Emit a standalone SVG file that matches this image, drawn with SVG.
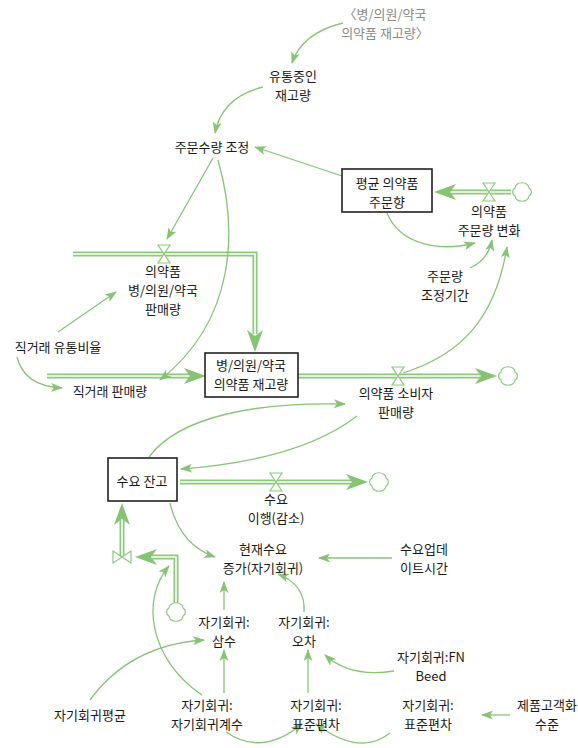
<svg xmlns="http://www.w3.org/2000/svg" width="578" height="748" viewBox="0 0 578 748">
<style>
text{font-family:"Noto Sans CJK KR","Noto Sans",sans-serif;font-size:13px;fill:#1a1a1a;text-anchor:middle}
.gray{fill:#8a8a8a}
.box{fill:#fff;stroke:#222;stroke-width:1.6}
.po{fill:none;stroke:#8cc97b;stroke-width:5;stroke-linejoin:miter}
.pi{fill:none;stroke:#fff;stroke-width:1.6;stroke-linejoin:miter}
.valve{fill:#fff;stroke:#8cc97b;stroke-width:1.2}
.cloud{fill:#fff;stroke:#8cc97b;stroke-width:1.2}
.fh{fill:#86c473}
.c{fill:none;stroke:#88c477;stroke-width:1.3;marker-end:url(#ah)}
</style>
<defs>
<marker id="ah" viewBox="0 0 12 9" refX="11" refY="4.5" markerWidth="12" markerHeight="9" markerUnits="userSpaceOnUse" orient="auto">
<path d="M0,0 L12,4.5 L0,9 L3,4.5 Z" fill="#86c473"/>
</marker>
<path id="fhead" d="M0,0 L-22,-8 L-16,0 L-22,8 Z"/>
<path id="hv" d="M-6,-9 L6,-9 L0,0 Z M-6,9 L6,9 L0,0 Z"/>
<path id="cl" d="M-7,4 A4.5,4.5 0 0 1 -7,-4 A6,4.5 0 0 1 7,-4 A4.5,4.5 0 0 1 7,4 A6,4.5 0 0 1 -7,4 Z"/>
</defs>

<g id="flows">
<polyline class="po" points="73,254 255,254 255,334"/>
<polyline class="pi" points="73,254 255,254 255,334"/>
<use href="#fhead" class="fh" transform="translate(255,352) rotate(90)"/>
<use href="#hv" class="valve" transform="translate(164,254)"/>
<polyline class="po" points="47,376 190,376"/>
<polyline class="pi" points="47,376 190,376"/>
<use href="#fhead" class="fh" transform="translate(206,376)"/>
<polyline class="po" points="298,376 482,376"/>
<polyline class="pi" points="298,376 482,376"/>
<use href="#fhead" class="fh" transform="translate(497,376)"/>
<use href="#hv" class="valve" transform="translate(398,376)"/>
<use href="#cl" class="cloud" transform="translate(508,376)"/>
<polyline class="po" points="511,192 450,192"/>
<polyline class="pi" points="511,192 450,192"/>
<use href="#fhead" class="fh" transform="translate(434,192) rotate(180)"/>
<use href="#hv" class="valve" transform="translate(489,192)"/>
<use href="#cl" class="cloud" transform="translate(522,192)"/>
<polyline class="po" points="180,482 353,482"/>
<polyline class="pi" points="180,482 353,482"/>
<use href="#fhead" class="fh" transform="translate(368,482)"/>
<use href="#hv" class="valve" transform="translate(276,482)"/>
<use href="#cl" class="cloud" transform="translate(379,482)"/>
<polyline class="po" points="122,557 122,520"/>
<polyline class="pi" points="122,557 122,520"/>
<use href="#fhead" class="fh" transform="translate(122,503) rotate(-90)"/>
<use href="#hv" class="valve" transform="translate(122,557) rotate(90)"/>
<polyline class="po" points="176,606 176,557 152,557"/>
<polyline class="pi" points="176,606 176,557 152,557"/>
<use href="#fhead" class="fh" transform="translate(135,557) rotate(180)"/>
<use href="#cl" class="cloud" transform="translate(176,612)"/>
</g>

<g id="connectors">
<path class="c" d="M343,23 Q302,33 292,63"/>
<path class="c" d="M263,87 Q222,97 215,133"/>
<path class="c" d="M342,176 L255,147"/>
<path class="c" d="M213,158 L167,239"/>
<path class="c" d="M218,160 C238,230 236,320 160,380"/>
<path class="c" d="M58,332 L116,292"/>
<path class="c" d="M17,357 Q24,386 62,388"/>
<path class="c" d="M387,213 C400,245 440,252 475,243"/>
<path class="c" d="M470,268 Q488,260 492,240"/>
<path class="c" d="M403,373 C460,355 495,320 507,247"/>
<path class="c" d="M149,457 C180,415 260,402 345,404"/>
<path class="c" d="M357,416 Q300,460 181,469"/>
<path class="c" d="M170,503 Q180,545 215,557"/>
<path class="c" d="M392,558 L319,558"/>
<path class="c" d="M224,610 L224,582"/>
<path class="c" d="M304,612 Q306,585 278,574"/>
<path class="c" d="M394,671 Q350,678 325,655"/>
<path class="c" d="M308,693 L308,650"/>
<path class="c" d="M224,693 L224,650"/>
<path class="c" d="M90,700 Q130,645 204,640"/>
<path class="c" d="M202,695 C150,660 140,600 169,566"/>
<path class="c" d="M226,732 Q262,757 302,724"/>
<path class="c" d="M390,733 Q360,757 316,724"/>
<path class="c" d="M510,715 L482,715"/>
</g>

<g id="shadow-inventory"><text class="gray" x="385" y="19">〈병/의원/약국</text><text class="gray" x="385" y="38">의약품 재고량〉</text></g>
<g id="in-transit"><text x="293" y="81">유통중인</text><text x="293" y="100">재고량</text></g>
<g id="order-adjust"><text x="212" y="152">주문수량 조정</text></g>
<g id="avg-order"><rect class="box" x="342" y="169" width="90" height="43"/><text x="387" y="188">평균 의약품</text><text x="387" y="207">주문향</text></g>
<g id="order-change"><text x="489" y="216">의약품</text><text x="489" y="235">주문량 변화</text></g>
<g id="adjust-time"><text x="445" y="281">주문량</text><text x="445" y="300">조정기간</text></g>
<g id="hospital-sales"><text x="163" y="276">의약품</text><text x="163" y="295">병/의원/약국</text><text x="163" y="314">판매량</text></g>
<g id="direct-ratio"><text x="58" y="352">직거래 유통비율</text></g>
<g id="direct-sales"><text x="110" y="396">직거래 판매량</text></g>
<g id="hospital-inventory"><rect class="box" x="205" y="353" width="93" height="44"/><text x="251" y="370">병/의원/약국</text><text x="251" y="389">의약품 재고량</text></g>
<g id="consumer-sales"><text x="396" y="398">의약품 소비자</text><text x="396" y="417">판매량</text></g>
<g id="demand-backlog"><rect class="box" x="108" y="458" width="69" height="43"/><text x="142" y="486">수요 잔고</text></g>
<g id="demand-fulfil"><text x="276" y="504">수요</text><text x="276" y="523">이행(감소)</text></g>
<g id="demand-increase"><text x="263" y="554">현재수요</text><text x="263" y="573">증가(자기회귀)</text></g>
<g id="update-time"><text x="424" y="554">수요업데</text><text x="424" y="573">이트시간</text></g>
<g id="ar-const"><text x="224" y="627">자기회귀:</text><text x="224" y="646">삼수</text></g>
<g id="ar-error"><text x="304" y="627">자기회귀:</text><text x="304" y="646">오차</text></g>
<g id="ar-fn"><text x="431" y="662">자기회귀:FN</text><text x="431" y="681">Beed</text></g>
<g id="ar-mean"><text x="90" y="720">자기회귀평균</text></g>
<g id="ar-coef"><text x="207" y="710">자기회귀:</text><text x="207" y="729">자기회귀계수</text></g>
<g id="ar-sd1"><text x="316" y="710">자기회귀:</text><text x="316" y="729">표준편차</text></g>
<g id="ar-sd2"><text x="428" y="710">자기회귀:</text><text x="428" y="729">표준편차</text></g>
<g id="customization"><text x="547" y="710">제품고객화</text><text x="547" y="729">수준</text></g>
</svg>
